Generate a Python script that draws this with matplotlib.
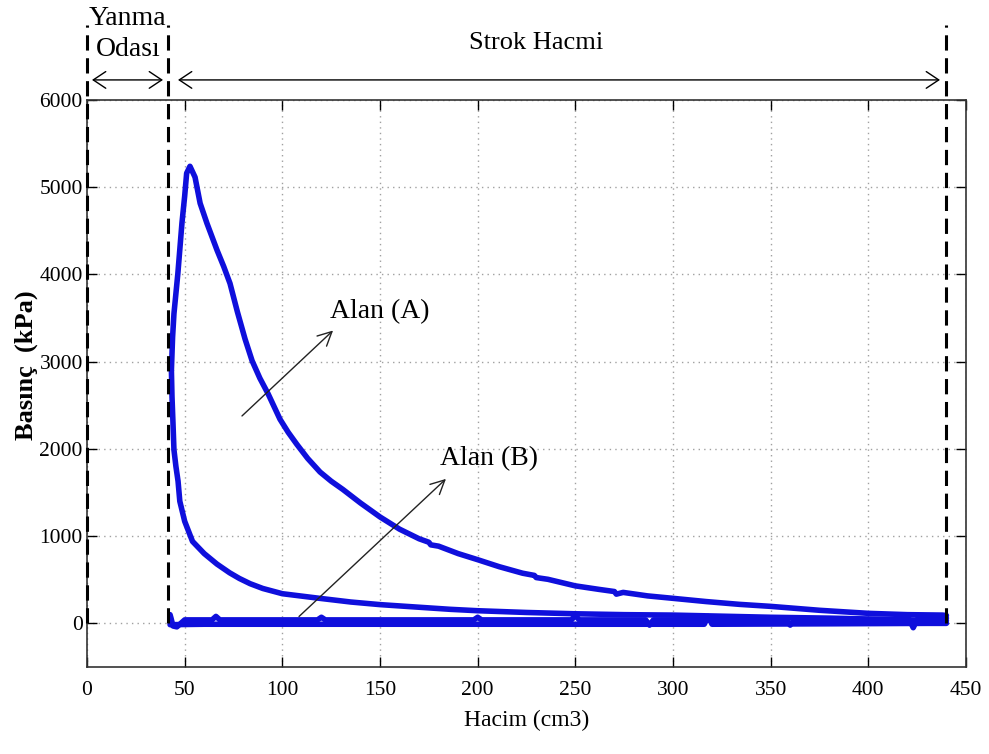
"""
P-V diyagrami - yanma odasi / strok hacmi
"""

import numpy as np
import matplotlib.pyplot as plt

plt.rcParams['font.family'] = ['Liberation Serif', 'DejaVu Serif']

# genisleme (tepe noktasindan AOL'ye)
exp_V = [43.2, 43.8, 44.5, 45.5, 46.5, 48.6, 50, 51, 52.7, 55.3, 57.9, 61.4,
         66.6, 70, 73.2, 77, 80.9, 84.5, 88.5, 92.7, 98.8, 103, 107.5, 113, 119.3, 125, 131, 140,
         150, 160, 170, 175, 176, 180, 190, 200, 211, 223, 229, 230, 236, 250,
         262, 270, 271, 274.5, 287, 300, 317, 334, 350, 375, 400, 420, 438, 440]
exp_P = [2900, 3280, 3550, 3780, 4010, 4590, 4900, 5160, 5240, 5115, 4816, 4586,
         4276, 4090, 3897, 3570, 3260, 3011, 2810, 2632, 2340, 2190, 2050, 1890, 1735, 1630, 1535, 1380,
         1220, 1080, 970, 930, 900, 885, 800, 730, 650, 575, 550, 525, 505, 430,
         390, 365, 335, 355, 315, 287, 250, 218, 195, 150, 115, 100, 95, 90]

# sikistirma (AOL'den UOL'ye)
comp_V = [440, 420, 400, 380, 350, 320, 300, 275, 250, 225, 200, 186, 170, 150, 135,
          118, 100, 90, 83.5, 78, 73, 66.5, 60, 54, 50, 47.5, 46.6, 45.5, 44.5, 44, 43.5, 43.2]
comp_P = [30, 40, 50, 60, 70, 85, 95, 100, 110, 125, 145, 161, 185, 215, 245,
          290, 340, 400, 455, 515, 580, 680, 800, 940, 1170, 1400, 1630, 1800, 1990, 2300, 2600, 2900]

# egzoz / emme (alt cizgi)
low_V = [440, 425, 423, 421, 400, 362, 360, 358, 320, 290, 288, 286, 252, 250, 248,
         202, 200, 198, 150, 122, 120, 118, 68, 66, 64, 50, 46, 44, 43, 42.5]
low_P = [60, 45, -50, 45, 45, 40, -20, 40, 40, 40, -20, 40, 40, 90, 40,
         40, 70, 40, 40, 40, 70, 40, 40, 80, 40, 40, -40, -30, 60, 100]
low2_V = [42.5, 60, 100, 180, 260, 316, 318, 320, 380, 430, 440]
low2_P = [-15, -10, -10, -10, -10, -10, 80, -10, -5, 0, 0]

dash_V = [0, 41.5, 440]

fig = plt.figure(figsize=(9.89, 7.54), dpi=100)
ax = fig.add_axes([0.088, 0.1154, 0.8887, 0.752])

clr = '#0f0fdc'
for xs, ys in [(exp_V, exp_P), (comp_V, comp_P), (low_V, low_P), (low2_V, low2_P)]:
    ax.plot(xs, ys, color=clr, lw=4.0, solid_joinstyle='round',
            solid_capstyle='round', zorder=3)

ax.set_xlim(0, 450)
ax.set_ylim(-500, 6000)
ax.set_xticks(np.arange(0, 451, 50))
ax.set_yticks(np.arange(0, 6001, 1000))
ax.grid(True, color='#a0a0a0', linestyle=(0, (1, 3)), lw=1.0)
ax.tick_params(direction='in', top=True, right=True, length=7, width=1,
               labelsize=15.5)
ax.tick_params(axis='x', pad=10)
ax.tick_params(axis='y', pad=3)
for s in ax.spines.values():
    s.set_linewidth(1.2)
    s.set_color('#333333')

ax.set_xlabel('Hacim (cm3)', fontsize=17)
ax.xaxis.set_label_coords(0.5, -0.075)
ax.set_ylabel('Basınç  (kPa)', fontsize=19, fontweight='bold')
ax.yaxis.set_label_coords(-0.056, 0.533)

# kesikli sinir cizgileri
for v in dash_V:
    ax.plot([v, v], [0, 6862], color='black', lw=2.2, ls=(0, (5, 2.5)),
            clip_on=False, zorder=4)

# alan oklari
aprops = dict(arrowstyle='->,head_length=0.5,head_width=0.25',
              color='#222222', lw=1.0, mutation_scale=20)
ax.annotate('', xy=(127, 3379), xytext=(78.3, 2356), arrowprops=aprops)
ax.text(124.4, 3575, 'Alan (A)', fontsize=20, va='center', ha='left')
ax.annotate('', xy=(184.8, 1678), xytext=(107.5, 57), arrowprops=aprops)
ax.text(180.7, 1885, 'Alan (B)', fontsize=20, va='center', ha='left')

# ust aciklamalar
fig.text(0.1294, 0.975, 'Yanma', fontsize=20, ha='center', va='center')
fig.text(0.1294, 0.935, 'Odası', fontsize=20, ha='center', va='center')
fig.text(0.542, 0.943, 'Strok Hacmi', fontsize=19, ha='center', va='center')
arr = dict(arrowstyle='<->,head_length=0.45,head_width=0.3', color='black',
           lw=1.0, mutation_scale=20, shrinkA=0, shrinkB=0)
ax.annotate('', xy=(163 / 989, 0.894), xytext=(92 / 989, 0.894),
            xycoords='figure fraction', textcoords='figure fraction',
            arrowprops=arr)
ax.annotate('', xy=(940 / 989, 0.894), xytext=(178 / 989, 0.894),
            xycoords='figure fraction', textcoords='figure fraction',
            arrowprops=arr)

plt.savefig('out.png', dpi=100)
